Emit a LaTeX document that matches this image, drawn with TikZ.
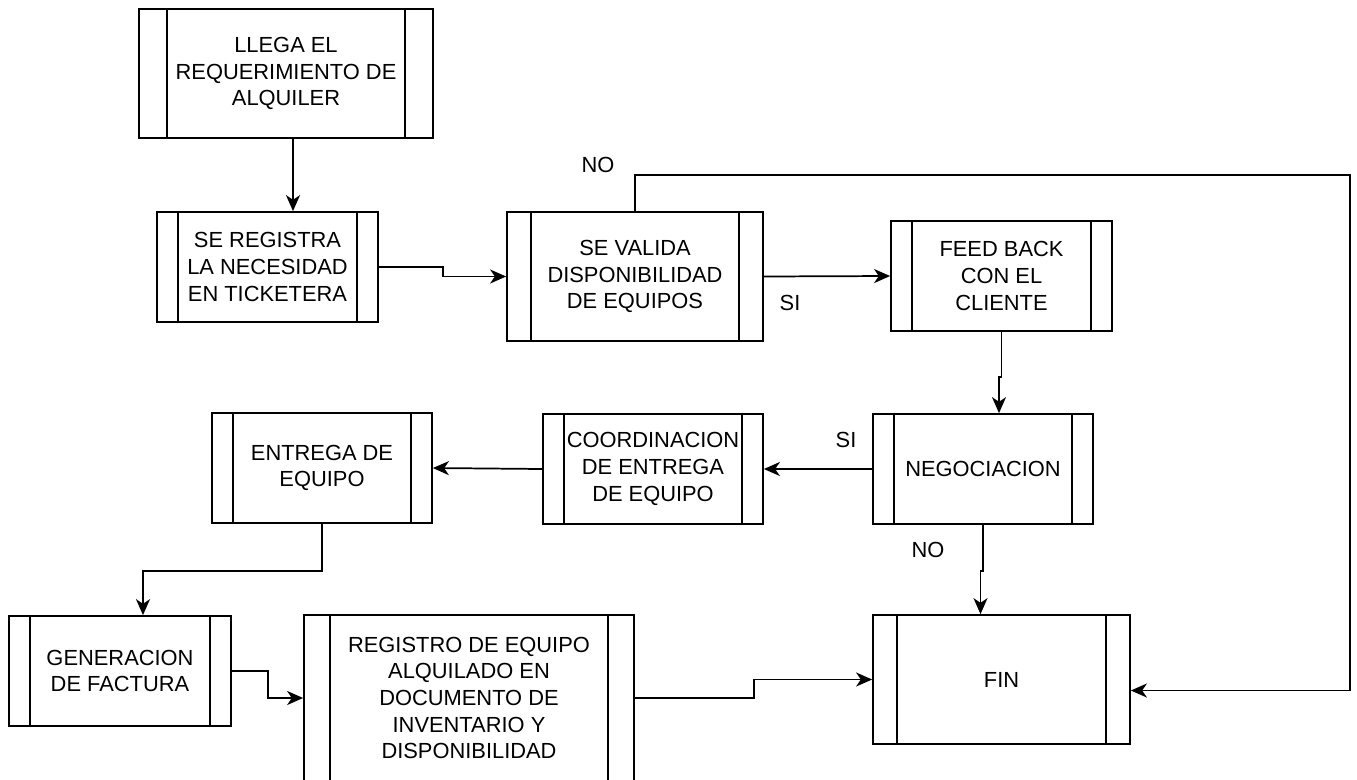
\documentclass[tikz,border=0pt]{standalone}
\usepackage{fontspec}
\setmainfont{Liberation Sans}
\usetikzlibrary{arrows.meta,calc}
\tikzset{
  proc/.style={draw=black, line width=1.3pt, inner sep=0pt, align=center,
    font=\fontsize{16.4}{20}\selectfont},
  procline/.style={draw=black, line width=1.3pt},
  conn/.style={draw=black, line width=1.3pt, -{Stealth[length=12pt,width=10.5pt,inset=3.5pt]}},
  lbl/.style={inner sep=0pt, font=\fontsize{16.4}{20}\selectfont}
}
\newcommand\procbox[7]{%
  \node[proc, minimum width=#4*0.75pt, minimum height=#5*0.75pt] (#1) at (#2,#3) {#7};
  \draw[procline] ($(#1.north west)+(#6,0)$) -- ($(#1.south west)+(#6,0)$);
  \draw[procline] ($(#1.north east)+(-#6,0)$) -- ($(#1.south east)+(-#6,0)$);
}
\begin{document}
\begin{tikzpicture}[x=0.75pt,y=-0.75pt]
\useasboundingbox (0,0) rectangle (1357,779);
\procbox{llega}{286}{73.5}{294}{129}{29}{LLEGA EL\\REQUERIMIENTO DE\\ALQUILER}
\procbox{registra}{267.5}{267}{221}{110}{22}{SE REGISTRA\\LA NECESIDAD\\EN TICKETERA}
\procbox{valida}{635}{276.5}{256}{129}{25}{SE VALIDA\\DISPONIBILIDAD\\DE EQUIPOS}
\procbox{feed}{1001.5}{276}{221}{110}{22}{FEED BACK\\CON EL\\CLIENTE}
\procbox{nego}{983}{469}{220}{110}{22}{NEGOCIACION}
\procbox{coord}{653}{469}{220}{110}{22}{COORDINACION\\DE ENTREGA\\DE EQUIPO}
\procbox{entrega}{322}{468}{220}{110}{22}{ENTREGA DE\\EQUIPO}
\procbox{gen}{120}{671}{222}{110}{22}{GENERACION\\DE FACTURA}
\procbox{regis}{469}{698}{330}{166}{27}{REGISTRO DE EQUIPO\\ALQUILADO EN\\DOCUMENTO DE\\INVENTARIO Y\\DISPONIBILIDAD}
\procbox{fin}{1001.5}{679.5}{257}{129}{25}{FIN}
\coordinate (nocorner) at (1350,175);
% connectors
\draw[conn] ($(llega.south)+(7,0)$) -- ($(registra.north)+(25.5,0)$);
\draw[conn] (registra.east) -- ++(64,0) |- (valida.west);
\draw[conn] (valida.east) -- (feed.west);
\draw[conn] (valida.north) |- (nocorner) |- ($(fin.east)+(0,11)$);
\draw[conn] (feed.south) -- ++(0,45) -| ($(nego.north)+(16,0)$);
\draw[conn] (nego.west) -- (coord.east);
\draw[conn] (coord.west) -- (entrega.east);
\draw[conn] (entrega.south) -- ++(0,47) -| ($(gen.north)+(23,0)$);
\draw[conn] (gen.east) -- ++(36,0) |- (regis.west);
\draw[conn] (regis.east) -- ++(119,0) |- (fin.west);
\draw[conn] (nego.south) -- ++(0,46) -| ($(fin.north)+(-21,0)$);
% labels
\node[lbl] (lno1) at (598,165) {NO};
\node[lbl] (lsi1) at (790,303) {SI};
\node[lbl] (lsi2) at (846,440) {SI};
\node[lbl] (lno2) at (928,550) {NO};
\end{tikzpicture}
\end{document}
